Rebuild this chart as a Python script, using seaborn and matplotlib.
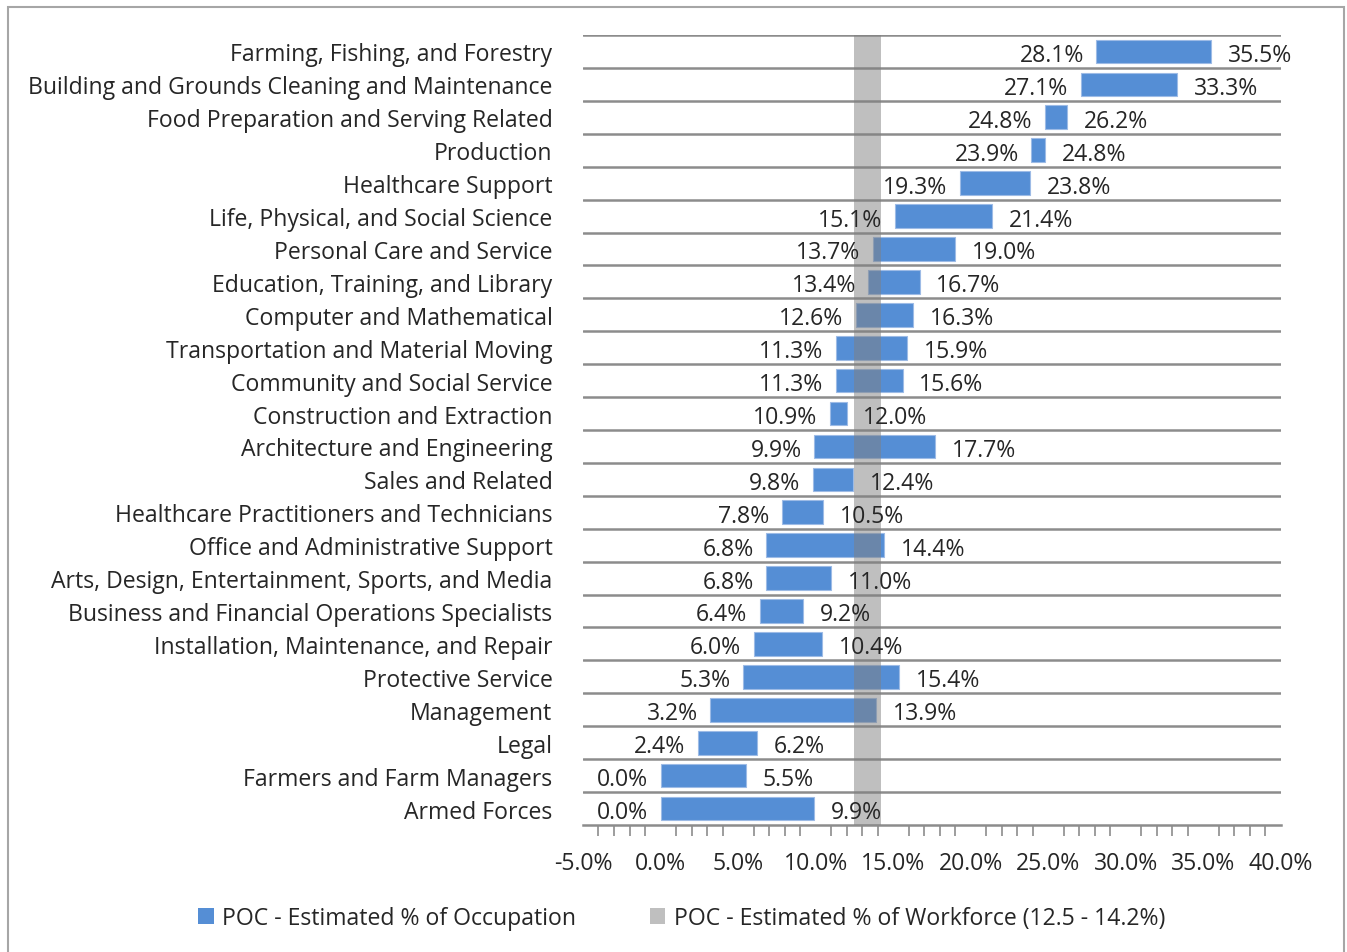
import numpy as np
import pandas as pd
import matplotlib
matplotlib.use("Agg")
import matplotlib.pyplot as plt
from matplotlib.patches import Patch, Rectangle
from matplotlib.ticker import MultipleLocator, FuncFormatter
import seaborn as sns

occupations = [
    "Farming, Fishing, and Forestry",
    "Building and Grounds Cleaning and Maintenance",
    "Food Preparation and Serving Related",
    "Production",
    "Healthcare Support",
    "Life, Physical, and Social Science",
    "Personal Care and Service",
    "Education, Training, and Library",
    "Computer and Mathematical",
    "Transportation and Material Moving",
    "Community and Social Service",
    "Construction and Extraction",
    "Architecture and Engineering",
    "Sales and Related",
    "Healthcare Practitioners and Technicians",
    "Office and Administrative Support",
    "Arts, Design, Entertainment, Sports, and Media",
    "Business and Financial Operations Specialists",
    "Installation, Maintenance, and Repair",
    "Protective Service",
    "Management",
    "Legal",
    "Farmers and Farm Managers",
    "Armed Forces",
]
low = [28.1, 27.1, 24.8, 23.9, 19.3, 15.1, 13.7, 13.4, 12.6, 11.3, 11.3, 10.9,
       9.9, 9.8, 7.8, 6.8, 6.8, 6.4, 6.0, 5.3, 3.2, 2.4, 0.0, 0.0]
high = [35.5, 33.3, 26.2, 24.8, 23.8, 21.4, 19.0, 16.7, 16.3, 15.9, 15.6, 12.0,
        17.7, 12.4, 10.5, 14.4, 11.0, 9.2, 10.4, 15.4, 13.9, 6.2, 5.5, 9.9]
workforce_range = (12.5, 14.2)

df = pd.DataFrame({"occupation": occupations, "low": low, "high": high})
df["span"] = df["high"] - df["low"]

sns.set_theme(style="white")
plt.rcParams["font.family"] = ["Open Sans", "DejaVu Sans"]
fs = 16.6

blue = "#558ED5"
grid_col = "#8C8C8C"

fig = plt.figure(figsize=(13.47, 9.53), dpi=100)
ax = fig.add_axes([0.4328, 0.1333, 0.5182, 0.8289])

pos = np.arange(len(df))
ax.barh(pos, df["span"], left=df["low"], height=0.72, color=blue,
        edgecolor="#9DBBE6", linewidth=0.8, zorder=2)

# workforce band drawn over the bars
ax.axvspan(*workforce_range, color="#808080", alpha=0.5, lw=0, zorder=3)

for i, r in df.iterrows():
    ax.annotate(f"{r['low']:.1f}%", (r["low"], i), xytext=(-9, -2.5),
                textcoords="offset points", ha="right", va="center",
                fontsize=fs, zorder=5)
    ax.annotate(f"{r['high']:.1f}%", (r["high"], i), xytext=(12, -2.5),
                textcoords="offset points", ha="left", va="center",
                fontsize=fs, zorder=5)

ax.set_xlim(-5, 40)
ax.set_ylim(len(df) - 0.5, -0.5)
for b in np.arange(-0.5, len(df) - 0.5, 1):
    ax.axhline(b, color=grid_col, lw=1.8, zorder=1)

ax.set_yticks(pos)
ax.set_yticklabels(df["occupation"], fontsize=fs)
ax.tick_params(axis="y", length=0, pad=22)

ax.xaxis.set_major_locator(MultipleLocator(5))
ax.xaxis.set_minor_locator(MultipleLocator(1))
ax.xaxis.set_major_formatter(FuncFormatter(lambda v, p: f"{v:.1f}%"))
ax.tick_params(axis="x", which="major", direction="inout", length=16, width=1.5,
               color=grid_col, labelsize=fs, pad=11)
ax.tick_params(axis="x", which="minor", direction="out", length=8, width=1.2,
               color=grid_col, bottom=True)

sns.despine(ax=ax, left=True, top=True, right=True)
ax.spines["bottom"].set_color(grid_col)
ax.spines["bottom"].set_linewidth(1.8)
ax.set_xlabel("")
ax.set_ylabel("")

handles = [Patch(facecolor=blue, edgecolor="none"),
           Patch(facecolor="#BFBFBF", edgecolor="none")]
fig.legend(handles, ["POC - Estimated % of Occupation",
                     "POC - Estimated % of Workforce (12.5 - 14.2%)"],
           loc="center", bbox_to_anchor=(0.506, 0.036), ncol=2, frameon=False,
           fontsize=fs, handlelength=0.68, handleheight=0.68, handletextpad=0.36,
           columnspacing=3.2)

fig.patches.append(Rectangle((8 / 1347, -0.05), 1336 / 1347, 1.05 - 8 / 953,
                             transform=fig.transFigure, fill=False,
                             edgecolor="#A6A6A6", lw=1.5))

fig.savefig("out.png", dpi=100)
